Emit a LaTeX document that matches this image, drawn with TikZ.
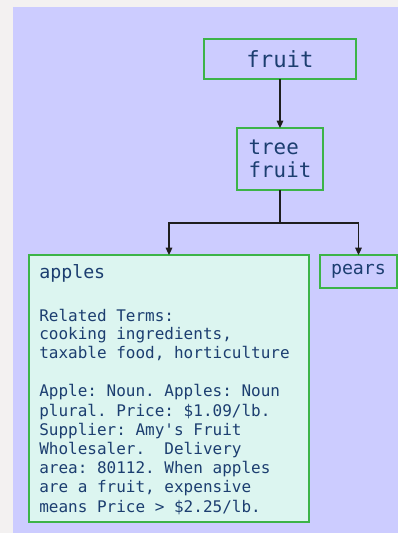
\documentclass[tikz,border=0pt]{standalone}
\usepackage{fontspec}
\setmonofont{DejaVu Sans Mono}
\usetikzlibrary{positioning,arrows.meta}
\definecolor{pageColor}{RGB}{243,241,241}
\definecolor{canvasColor}{RGB}{204,204,255}
\definecolor{boxBorder}{RGB}{60,180,72}
\definecolor{labelColor}{RGB}{28,62,112}
\definecolor{detailFill}{RGB}{220,245,240}
\definecolor{linkColor}{RGB}{30,30,30}
\tikzstyle{pixels} = [x = 0.75pt, y = -0.75pt]
\tikzstyle{termBox} = [draw=boxBorder, line width=1.5pt, text=labelColor, font=\ttfamily, inner sep=0pt, outer sep=0pt]
\tikzstyle{termText} = [text=labelColor, inner sep=0pt, align=left, anchor=base west]
\tikzstyle{link} = [color=linkColor, line width=0.8pt, -{Triangle[length=5.5pt, width=5pt]}]
\newcommand{\termFont}[2]{\ttfamily\fontsize{#1}{#2}\selectfont}

\begin{document}
\begin{tikzpicture}[pixels]
  % page and canvas
  \fill [pageColor] (0,0) rectangle (398,533);
  \fill [canvasColor] (13,7) rectangle (398,533);

  % the terms
  \node [termBox, minimum width=114pt, minimum height=30pt, font=\termFont{16.7pt}{20pt}] (fruitBox) at (280,59) {fruit};
  \node [termBox, minimum width=64.5pt, minimum height=46.5pt, align=left, font=\termFont{15.6pt}{17.25pt}] (treeBox) at (280,159) {tree\\fruit};
  \node [termBox, fill=detailFill, minimum width=210pt, minimum height=200.25pt] (applesBox) at (169,388.5) {};
  \node [termBox, minimum width=57.75pt, minimum height=24.75pt, font=\termFont{13.7pt}{16pt}] (pearsBox) at (358.5,271.5) {pears};

  % text of the apples box (anchored on the last line)
  \node [termText, font=\termFont{13.7pt}{16pt}] (applesTitle) at ([shift={(10,23)}]applesBox.north west) {apples};
  \node [termText, font=\termFont{12pt}{13.6pt}] (applesTerms) at ([shift={(10,103)}]applesBox.north west)
    {Related Terms:\\cooking ingredients,\\taxable food, horticulture};
  \node [termText, font=\termFont{12pt}{14.4pt}] (applesInfo) at ([shift={(10,257)}]applesBox.north west)
    {Apple: Noun. Apples: Noun\\plural. Price: \$1.09/lb.\\Supplier: Amy's Fruit\\Wholesaler.\ \ Delivery\\area: 80112. When apples\\are a fruit, expensive\\means Price > \$2.25/lb.};

  % links
  \coordinate (fork) at (280,223);
  \draw [link] (fruitBox) -- (treeBox);
  \draw [link] (treeBox.south) -- (fork) -| (applesBox.north);
  \draw [link] (fork) -| (pearsBox.north);
\end{tikzpicture}
\end{document}
